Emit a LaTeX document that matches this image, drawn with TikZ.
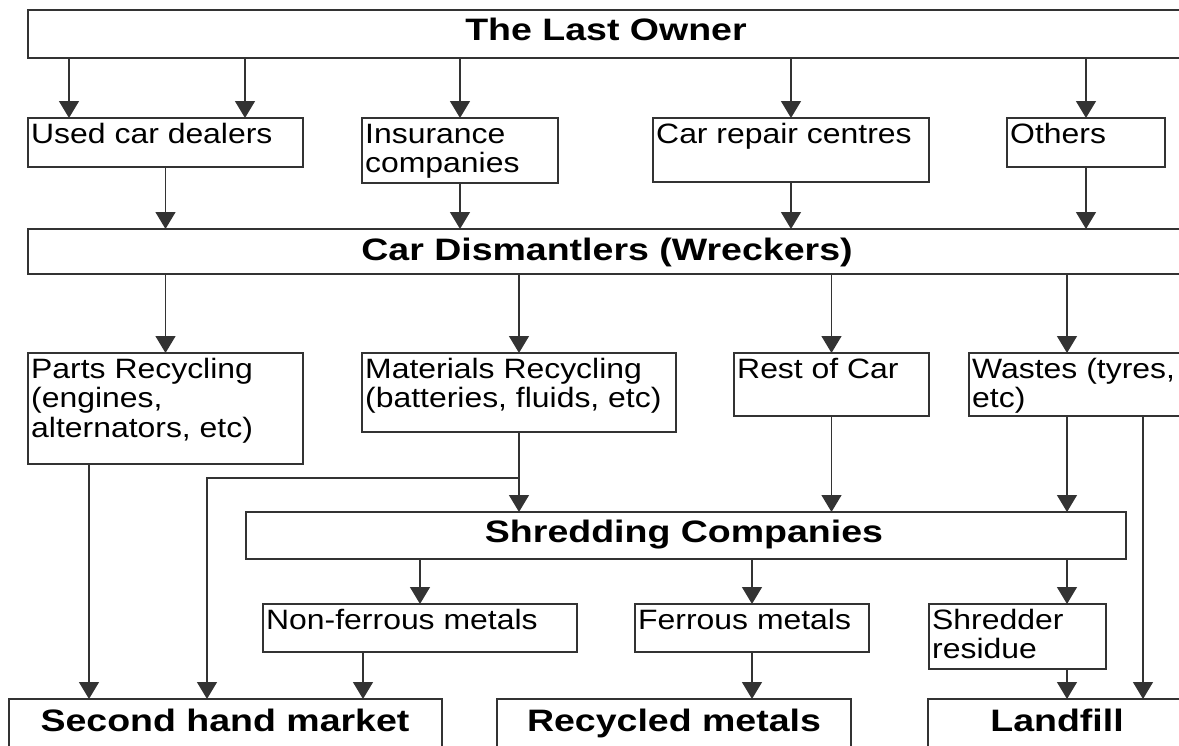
\documentclass[tikz,border=0pt]{standalone}
\usepackage{fontspec}
\setmainfont{Liberation Sans}
\newfontfamily\regfont[FakeStretch=1.14]{Liberation Sans}
\newfontfamily\headfont[FakeStretch=1.21]{Liberation Sans}
\usetikzlibrary{arrows.meta}
% strut that fixes the height of the first text line in a box
\newcommand\firstline{\rule{0pt}{25pt}}

\begin{document}
\begin{tikzpicture}[x=1pt,y=-1pt,
  box/.style={draw=black!80, line width=1.5pt, inner sep=0pt, outer sep=0pt,
              anchor=north west},
  lbl/.style={anchor=north west, inner sep=0pt, align=left, xshift=3pt,
              font=\regfont\fontsize{28}{29.5}\selectfont},
  head/.style={anchor=base, inner sep=0pt,
               font=\headfont\bfseries\fontsize{31}{34}\selectfont},
  arr/.style={draw=black!80, line width=1.4pt, -{Triangle[width=20pt,length=17pt]}}
]
\useasboundingbox (0,0) rectangle (1179,745);
\clip (0,0) rectangle (1179,745);

% ---------- boxes: (left, top), width x height ----------
\node[box, minimum width=1172, minimum height=48] (owner) at (28,10) {};
\node[box, minimum width=275, minimum height=49] (ucd) at (28,118) {};
\node[box, minimum width=196, minimum height=65] (ins) at (362,118) {};
\node[box, minimum width=276, minimum height=64] (crc) at (653,118) {};
\node[box, minimum width=158, minimum height=49] (oth) at (1007,118) {};
\node[box, minimum width=1172, minimum height=45] (cd) at (28,229) {};
\node[box, minimum width=275, minimum height=111] (parts) at (28,353) {};
\node[box, minimum width=314, minimum height=79] (mat) at (362,353) {};
\node[box, minimum width=195, minimum height=63] (rest) at (734,353) {};
\node[box, minimum width=231, minimum height=63] (waste) at (969,353) {};
\node[box, minimum width=880, minimum height=47] (shred) at (246,512) {};
\node[box, minimum width=314, minimum height=48] (nfm) at (263,604) {};
\node[box, minimum width=234, minimum height=48] (fm) at (635,604) {};
\node[box, minimum width=177, minimum height=65] (sr) at (929,604) {};
\node[box, minimum width=433, minimum height=61] (shm) at (9,699) {};
\node[box, minimum width=354, minimum height=61] (rm) at (497,699) {};
\node[box, minimum width=272, minimum height=61] (lf) at (928,699) {};

% ---------- headings ----------
\node[head] (t-owner) at (606,40) {The Last Owner};
\node[head] (t-cd) at (607,260) {Car Dismantlers (Wreckers)};
\node[head] (t-shred) at (684,542) {Shredding Companies};
\node[head] (t-shm) at (225,731) {Second hand market};
\node[head] (t-rm) at (674,731) {Recycled metals};
\node[head] (t-lf) at (1057,731) {Landfill};

% ---------- box texts ----------
\node[lbl] (t-ucd) at (ucd.north west) {\firstline Used car dealers};
\node[lbl] (t-ins) at (ins.north west) {\firstline Insurance\\companies};
\node[lbl] (t-crc) at (crc.north west) {\firstline Car repair centres};
\node[lbl] (t-oth) at (oth.north west) {\firstline Others};
\node[lbl] (t-parts) at (parts.north west) {\firstline Parts Recycling\\(engines,\\alternators, etc)};
\node[lbl] (t-mat) at (mat.north west) {\firstline Materials Recycling\\(batteries, fluids, etc)};
\node[lbl] (t-rest) at (rest.north west) {\firstline Rest of Car};
\node[lbl] (t-waste) at (waste.north west) {\firstline Wastes (tyres,\\etc)};
\node[lbl] (t-nfm) at (nfm.north west) {\firstline Non-ferrous metals};
\node[lbl] (t-fm) at (fm.north west) {\firstline Ferrous metals};
\node[lbl] (t-sr) at (sr.north west) {\firstline Shredder\\residue};

% ---------- connectors ----------
\draw[arr] (69,0 |- owner.south) -- (69,0 |- ucd.north);
\draw[arr] (245,0 |- owner.south) -- (245,0 |- ucd.north);
\draw[arr] (ins.north |- owner.south) -- (ins.north);
\draw[arr] (crc.north |- owner.south) -- (crc.north);
\draw[arr] (oth.north |- owner.south) -- (oth.north);

\draw[arr] (ucd.south) -- (ucd.south |- cd.north);
\draw[arr] (ins.south) -- (ins.south |- cd.north);
\draw[arr] (crc.south) -- (crc.south |- cd.north);
\draw[arr] (oth.south) -- (oth.south |- cd.north);

\draw[arr] (parts.north |- cd.south) -- (parts.north);
\draw[arr] (mat.north |- cd.south) -- (mat.north);
\draw[arr] (rest.north |- cd.south) -- (rest.north);
\draw[arr] (1067,0 |- cd.south) -- (1067,0 |- waste.north);

\draw[arr] (89,0 |- parts.south) -- (89,0 |- shm.north);
\draw[arr] (mat.south) -- (mat.south |- shred.north);
\coordinate (matfork) at (mat.south |- 0,478);
\draw[arr] (matfork) -| (207,0 |- shm.north);
\draw[arr] (rest.south) -- (rest.south |- shred.north);
\draw[arr] (1067,0 |- waste.south) -- (1067,0 |- shred.north);
\draw[arr] (1143,0 |- waste.south) -- (1143,0 |- lf.north);

\draw[arr] (nfm.north |- shred.south) -- (nfm.north);
\draw[arr] (fm.north |- shred.south) -- (fm.north);
\draw[arr] (1067,0 |- shred.south) -- (1067,0 |- sr.north);

\draw[arr] (363,0 |- nfm.south) -- (363,0 |- shm.north);
\draw[arr] (fm.south) -- (fm.south |- rm.north);
\draw[arr] (1067,0 |- sr.south) -- (1067,0 |- lf.north);
\end{tikzpicture}
\end{document}
